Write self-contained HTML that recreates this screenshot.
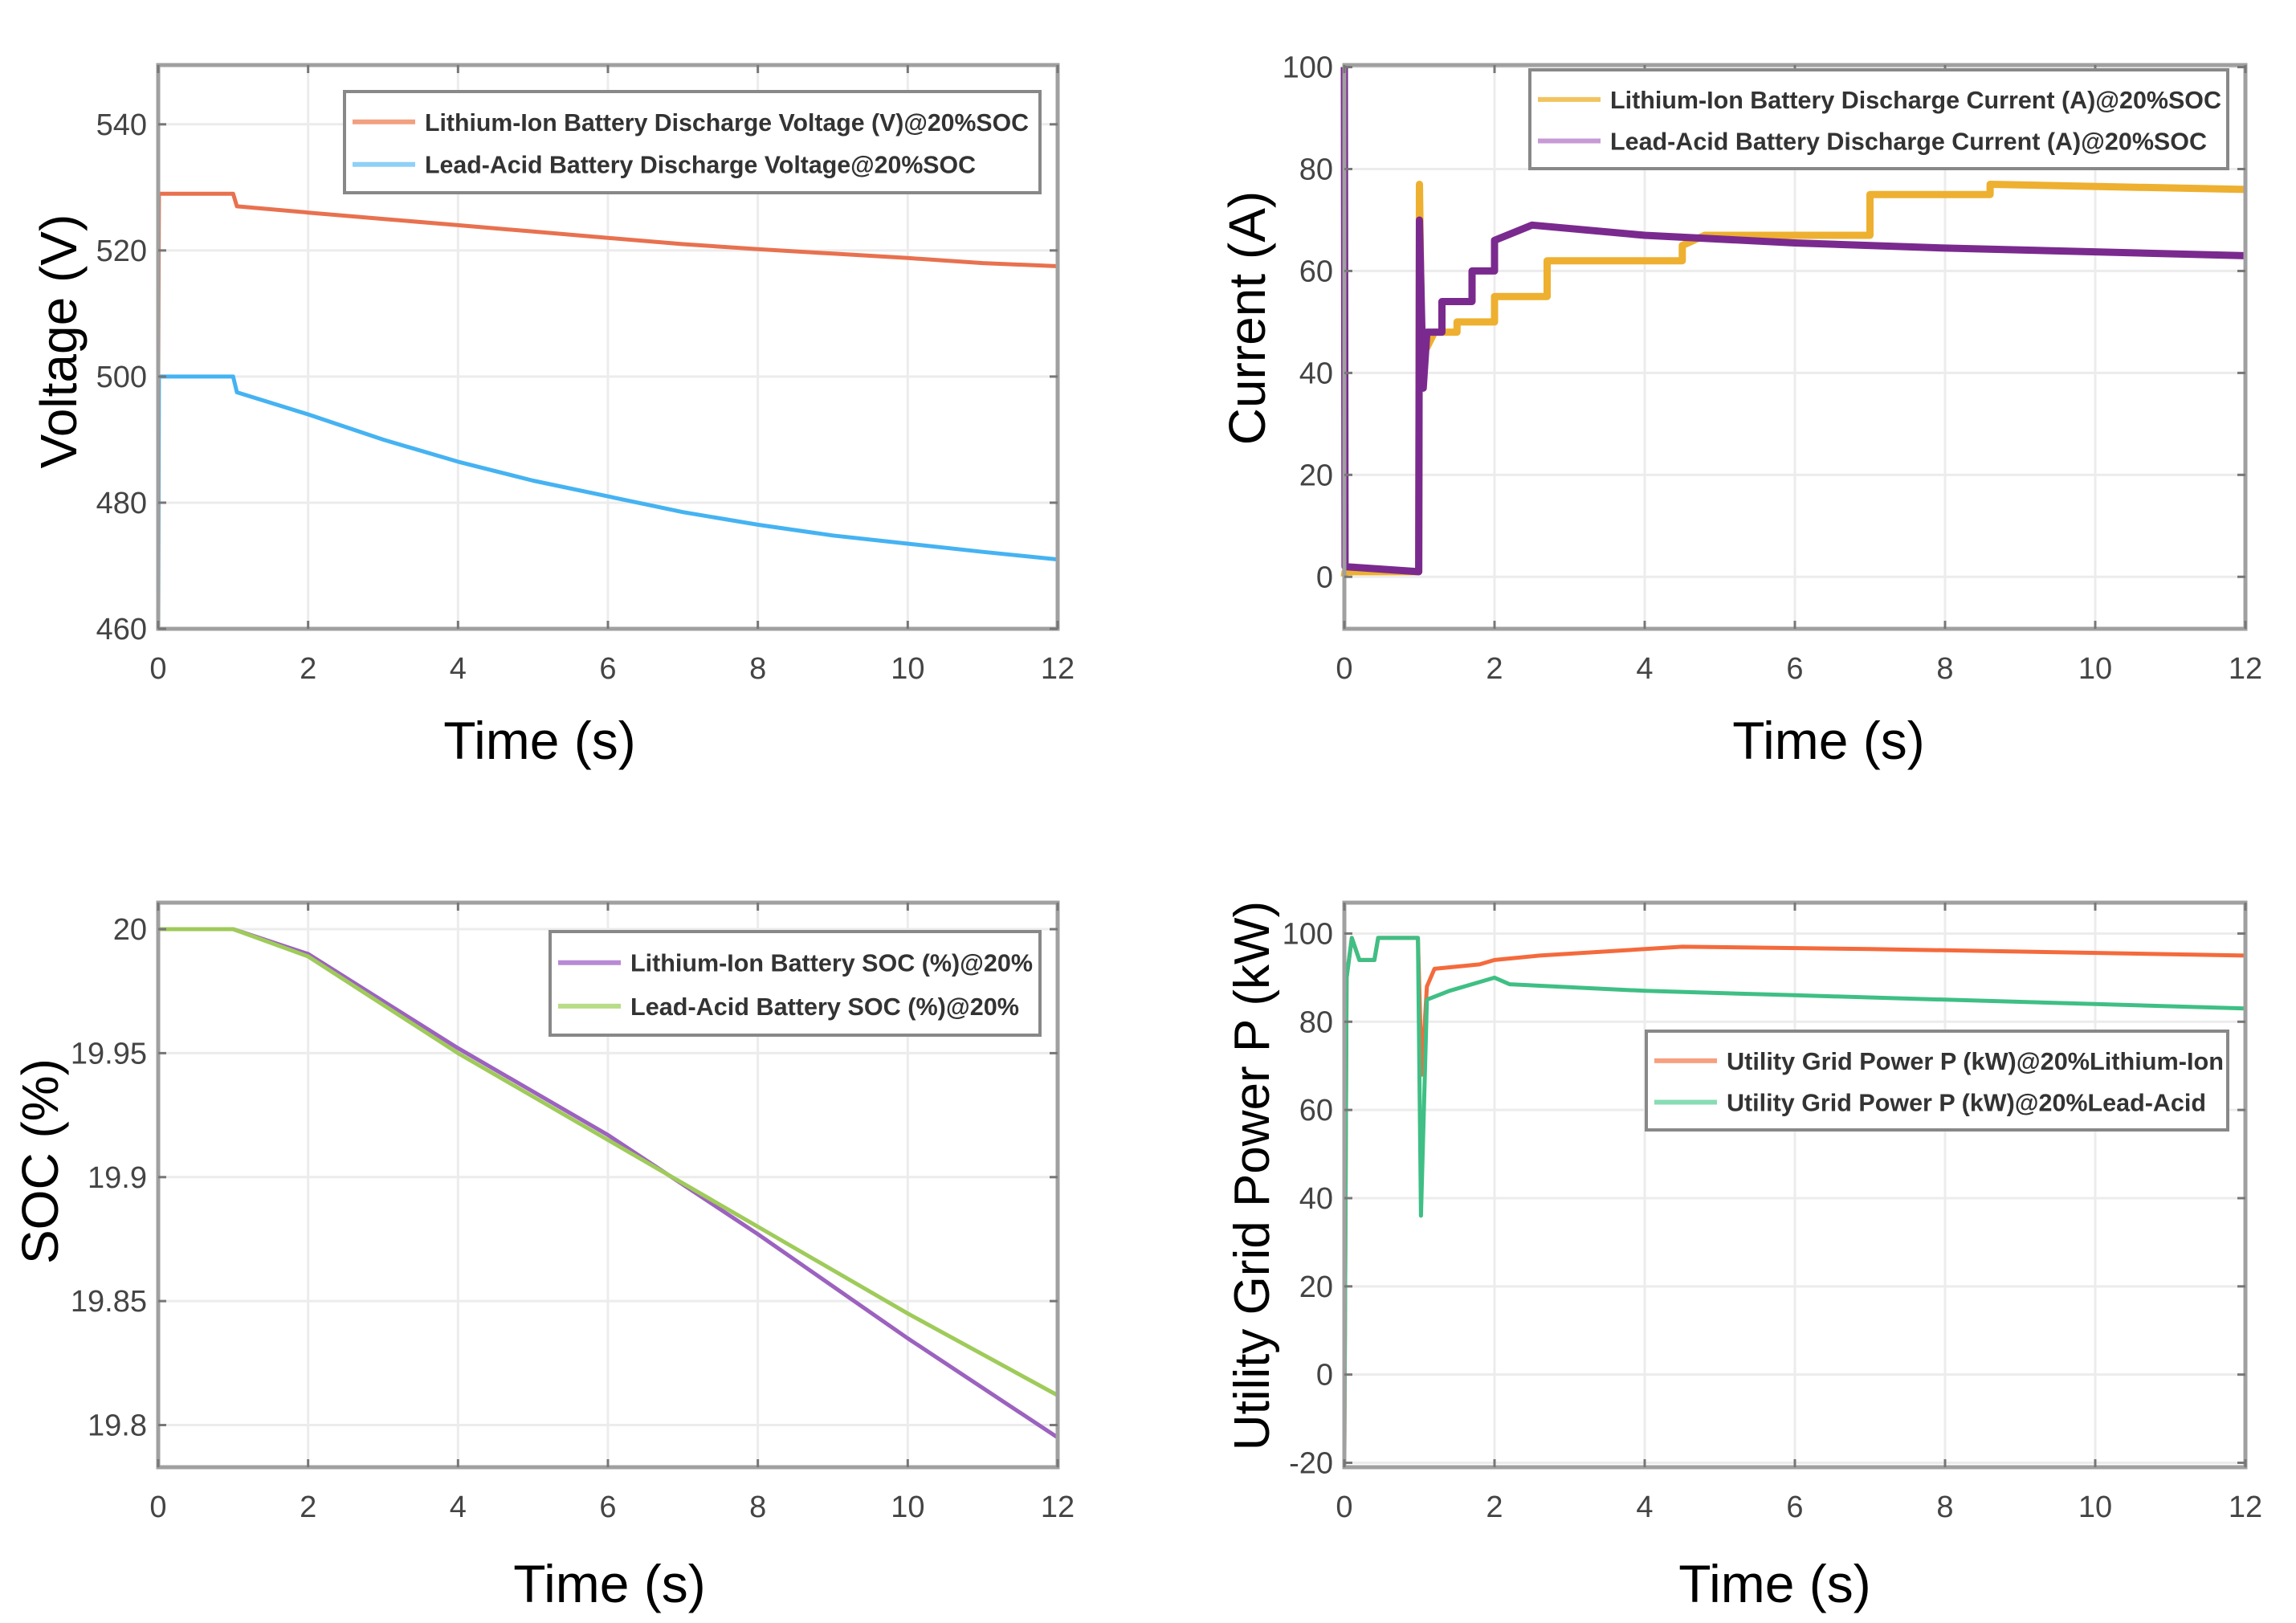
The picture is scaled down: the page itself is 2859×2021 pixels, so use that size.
<!DOCTYPE html>
<html><head><meta charset="utf-8"><style>
html,body{margin:0;padding:0;background:#fff}
svg{display:block}
</style></head><body>
<svg id="fig" width="2859" height="2021" viewBox="0 0 2859 2021" xmlns="http://www.w3.org/2000/svg"></svg>
<script>
// ---- data ----
const xTicks = [0,2,4,6,8,10,12];
const vTicks = [460,480,500,520,540];
const vTime = [0,0.01,1,1.05,2,3,4,5,6,7,8,9,10,11,12];
const vLi = [500,529,529,527,526,525,524,523,522,521,520.2,519.5,518.8,518,517.5];
const vLead = [460,500,500,497.5,494,490,486.5,483.5,481,478.5,476.5,474.8,473.5,472.2,471];
const cTicks = [0,20,40,60,80,100];
const cTimeLi = [0,0.01,0.99,1.0,1.03,1.1,1.2,1.5,1.5,2,2,2.7,2.7,4.5,4.5,4.8,7,7,8.6,8.6,12];
const cLi = [0,1,1,77,45,45,48,48,50,50,55,55,62,62,65,67,67,75,75,77,76];
const cTimeLead = [0,0.01,0.99,1.0,1.05,1.1,1.3,1.3,1.7,1.7,2,2,2.5,4,6,8,12];
const cLead = [100,2,1,70,37,48,48,54,54,60,60,66,69,67,65.5,64.5,63];
const sTicks = [19.8,19.85,19.9,19.95,20];
const sTime = [0,1,2,4,6,8,10,12];
const sLi = [20,20,19.99,19.952,19.917,19.877,19.835,19.795];
const sLead = [20,20,19.989,19.95,19.915,19.88,19.845,19.812];
const pTicks = [-20,0,20,40,60,80,100];
const pTimeLi = [0,0.03,0.1,0.2,0.4,0.45,0.98,1.03,1.1,1.2,1.8,2,2.6,4.5,7,12];
const pLi = [-18,90,99,94,94,99,99,68,88,92,93,94,95,97,96.5,95];
const pTimeLead = [0,0.03,0.1,0.2,0.4,0.45,0.98,1.02,1.1,1.4,1.8,2,2.2,4,6,8,10,12];
const pLead = [-18,90,99,94,94,99,99,36,85,87,89,90,88.5,87,86,85,84,83];

const NS="http://www.w3.org/2000/svg";
const svg=document.getElementById('fig');
function mk(tag,attrs,parent){const e=document.createElementNS(NS,tag);for(const k in attrs)e.setAttribute(k,attrs[k]);(parent||svg).appendChild(e);return e;}

function plot(cfg){
  const g=mk('g',{});
  
  
  const {L,R,T,B,ymin,ymax}=cfg;
  const sx=t=>L+(t-0)/12*(R-L);
  const sy=v=>B-(v-ymin)/(ymax-ymin)*(B-T);
  // grid
  xTicks.forEach(t=>{const l=mk('line',{x1:sx(t),x2:sx(t),y1:T,y2:B,stroke:'#ececec','stroke-width':3},g);
    });
  cfg.yTicks.forEach(v=>{const l=mk('line',{x1:L,x2:R,y1:sy(v),y2:sy(v),stroke:'#ececec','stroke-width':3},g);
    });
  // series
  cfg.series.forEach(s=>{
    const d=s.t.map((t,i)=>(i?'L':'M')+sx(t).toFixed(1)+','+sy(s.v[i]).toFixed(1)).join(' ');
    const p=mk('path',{d:d,fill:'none',stroke:s.color,'stroke-width':s.w,'stroke-linejoin':'round'},g);
    
    
  });
  // axes box
  const box=mk('rect',{x:L,y:T,width:R-L,height:B-T,fill:'none',stroke:'#a0a0a0','stroke-width':5},g);
  
  // ticks + labels
  xTicks.forEach(t=>{
    mk('line',{x1:sx(t),x2:sx(t),y1:B,y2:B-10,stroke:'#777','stroke-width':3},g);
    mk('line',{x1:sx(t),x2:sx(t),y1:T,y2:T+10,stroke:'#777','stroke-width':3},g);
    const tx=mk('text',{x:sx(t),y:B+62,'text-anchor':'middle','font-size':38,'font-family':'Liberation Sans Narrow, Liberation Sans, sans-serif',fill:'#444'},g);
    tx.textContent=t;
    
  });
  cfg.yTicks.forEach(v=>{
    mk('line',{x1:L,x2:L+10,y1:sy(v),y2:sy(v),stroke:'#777','stroke-width':3},g);
    mk('line',{x1:R,x2:R-10,y1:sy(v),y2:sy(v),stroke:'#777','stroke-width':3},g);
    const tx=mk('text',{x:L-14,y:sy(v)+13,'text-anchor':'end','font-size':38,'font-family':'Liberation Sans Narrow, Liberation Sans, sans-serif',fill:'#444'},g);
    tx.textContent=v;
    
  });
  // axis titles
  const xt=mk('text',{x:cfg.xtx,y:cfg.xty,'text-anchor':'middle','font-size':66,'font-family':'Liberation Sans, sans-serif',fill:'#000'},g);
  xt.textContent='Time (s)';
  
  const yt=mk('text',{x:0,y:0,'text-anchor':'middle','font-size':cfg.yfs||64,'font-family':'Liberation Sans, sans-serif',fill:'#000',transform:`translate(${cfg.ytx},${cfg.yty}) rotate(-90)`},g);
  yt.textContent=cfg.ytitle;
  
  // legend
  const lg=cfg.legend;
  const lgG=mk('g',{},g);
  
  mk('rect',{x:lg.x,y:lg.y,width:lg.w,height:lg.h,fill:'#fff',stroke:'#888','stroke-width':4},lgG);
  lg.items.forEach((it,i)=>{
    const yy=lg.y+lg.h*(i===0?0.3:0.72);
    mk('line',{x1:lg.x+10,x2:lg.x+88,y1:yy,y2:yy,stroke:it.color,'stroke-width':6},lgG);
    const tx=mk('text',{x:lg.x+100,y:yy+11,'font-size':31,'font-weight':'bold','font-family':'Liberation Sans Narrow, Liberation Sans, sans-serif',fill:'#333',textLength:it.len,lengthAdjust:'spacingAndGlyphs'},lgG);
    tx.textContent=it.text;
    
  });
}

plot({name:'voltage-chart',L:197,R:1317,T:81,B:783,ymin:460,ymax:549.4,yTicks:vTicks,
  series:[{name:'lithium-voltage-line',t:vTime,v:vLi,color:'#e8714f',w:5},{name:'lead-acid-voltage-line',t:vTime,v:vLead,color:'#45b3f2',w:5}],
  xtx:672,xty:945,ytx:95,yty:425,ytitle:'Voltage (V)',
  legend:{x:429,y:114,w:866,h:126,items:[{text:'Lithium-Ion Battery Discharge Voltage (V)@20%SOC',color:'#f2a080',len:752},{text:'Lead-Acid Battery Discharge Voltage@20%SOC',color:'#8fd0f8',len:686}]}});

plot({name:'current-chart',L:1674,R:2796,T:81,B:783,ymin:-10.2,ymax:100.4,yTicks:cTicks,
  series:[{name:'lithium-current-line',t:cTimeLi,v:cLi,color:'#eeb030',w:9},{name:'lead-acid-current-line',t:cTimeLead,v:cLead,color:'#7a2a8e',w:9}],
  xtx:2277,xty:945,ytx:1575,yty:396,ytitle:'Current (A)',
  legend:{x:1905,y:87,w:869,h:123,items:[{text:'Lithium-Ion Battery Discharge Current (A)@20%SOC',color:'#f2c460',len:761},{text:'Lead-Acid Battery Discharge Current (A)@20%SOC',color:'#c79ad6',len:743}]}});

plot({name:'soc-chart',L:197,R:1317,T:1124,B:1827,ymin:19.783,ymax:20.0107,yTicks:sTicks,
  series:[{name:'lithium-soc-line',t:sTime,v:sLi,color:'#9c62bf',w:5},{name:'lead-acid-soc-line',t:sTime,v:sLead,color:'#9fcb5a',w:5}],
  xtx:759,xty:1995,ytx:72,yty:1446,ytitle:'SOC (%)',
  legend:{x:685,y:1160,w:610,h:129,items:[{text:'Lithium-Ion Battery SOC (%)@20%',color:'#b88ad6',len:501},{text:'Lead-Acid Battery SOC (%)@20%',color:'#b8dc88',len:484}]}});

plot({name:'grid-power-chart',L:1674,R:2796,T:1124,B:1827,ymin:-21,ymax:107,yTicks:pTicks,
  series:[{name:'lithium-grid-power-line',t:pTimeLi,v:pLi,color:'#f46a3c',w:5},{name:'lead-acid-grid-power-line',t:pTimeLead,v:pLead,color:'#3fbf85',w:5}],
  xtx:2210,xty:1995,ytx:1580,yty:1464,yfs:62,ytitle:'Utility Grid Power P (kW)',
  legend:{x:2050,y:1284,w:724,h:123,items:[{text:'Utility Grid Power P (kW)@20%Lithium-Ion',color:'#f7a080',len:619},{text:'Utility Grid Power P (kW)@20%Lead-Acid',color:'#88dcb4',len:597}]}});
</script>
</body></html>
